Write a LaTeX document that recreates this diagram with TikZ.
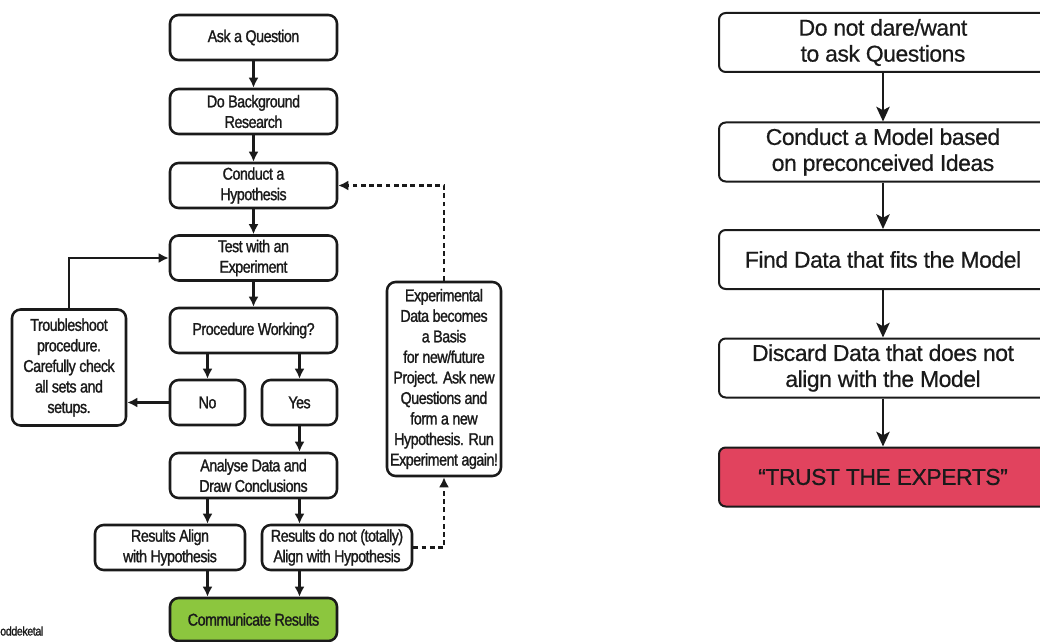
\documentclass[tikz,border=0pt]{standalone}
\usepackage{fontspec}
\setmainfont{Liberation Sans}
\newfontfamily\leftfont[FakeStretch=0.84,LetterSpace=-3,FakeBold=1.3]{Liberation Sans}
\newfontfamily\rightfont[LetterSpace=-2,FakeBold=0.6]{Liberation Sans}
\usetikzlibrary{arrows.meta}
\definecolor{commgreen}{HTML}{8CC63E}
\definecolor{trustred}{HTML}{E1435E}
\definecolor{ink}{HTML}{1A1A1A}
\tikzset{>=latex,
  lbox/.style={draw=ink, line width=1.9pt, rounded corners=6.5pt, align=center, inner sep=1pt,
    text=ink, font=\leftfont\fontsize{12.8}{15.4}\selectfont, minimum width=125.25pt, minimum height=33.75pt},
  rbox/.style={draw=ink, line width=1.5pt, rounded corners=5pt, align=center, inner sep=1pt,
    text=ink, font=\rightfont\fontsize{17.2}{19.5}\selectfont, minimum width=246pt, minimum height=44.25pt},
  larrow/.style={-{Latex[length=7.5pt,width=7.5pt]}, line width=1.7pt, color=ink},
  darrow/.style={larrow, dash pattern=on 3.6pt off 2.6pt},
  rarrow/.style={-{Stealth[length=11pt,width=10pt,inset=2.5pt]}, line width=1.4pt, color=ink}}
\begin{document}
\begin{tikzpicture}[x=0.75pt,y=-0.75pt]
\useasboundingbox (0,0) rectangle (1040,642);
\clip (0,0) rectangle (1040,642);
\node[lbox] (ask) at (253.5,37.5) {Ask a Question};
\node[lbox] (bg) at (253.5,111.5) {Do Background\\Research};
\node[lbox] (hyp) at (253.5,185.5) {Conduct a\\Hypothesis};
\node[lbox] (test) at (253.5,258) {Test with an\\Experiment};
\node[lbox] (proc) at (253.5,330.5) {Procedure Working?};
\node[lbox, minimum width=56.25pt] (no) at (207.5,402.5) {No};
\node[lbox, minimum width=56.25pt] (yes) at (299.5,402.5) {Yes};
\node[lbox, minimum width=85.5pt, minimum height=87pt] (trouble) at (69,367.5)
  {Troubleshoot\\procedure.\\Carefully check\\all sets and\\setups.};
\node[lbox] (analyse) at (253.5,475.5) {Analyse Data and\\Draw Conclusions};
\node[lbox, minimum width=112.5pt] (align) at (170,547.5) {Results Align\\with Hypothesis};
\node[lbox, minimum width=112.5pt] (notalign) at (337,547.5) {Results do not (totally)\\Align with Hypothesis};
\node[lbox, fill=commgreen, minimum height=32.25pt] (comm) at (253.5,619.5) {Communicate Results};
\node[lbox, minimum width=85.5pt, minimum height=145.5pt] (exp) at (444,379)
  {Experimental\\Data becomes\\a Basis\\for new/future\\Project. Ask new\\Questions and\\form a new\\Hypothesis. Run\\Experiment again!};
\node[anchor=west, inner sep=0pt, text=ink, font=\leftfont\fontsize{9.5}{11}\selectfont] (credit) at (0,631) {oddeketal};
\node[rbox] (r1) at (883,42.5) {Do not dare/want\\to ask Questions};
\node[rbox] (r2) at (883,152) {Conduct a Model based\\on preconceived Ideas};
\node[rbox] (r3) at (883,259.5) {Find Data that fits the Model};
\node[rbox] (r4) at (883,368) {Discard Data that does not\\align with the Model};
\node[rbox, fill=trustred] (r5) at (883,477) {“TRUST THE EXPERTS”};
\path[larrow]
(ask) edge (bg)
(bg) edge (hyp)
(hyp) edge (test)
(test) edge (proc)
(proc.south -| no) edge (no)
(proc.south -| yes) edge (yes)
(yes) edge (analyse.north -| yes)
(no.west) edge (no.west -| trouble.east)
(analyse.south -| no) edge (align.north -| no)
(analyse.south -| yes) edge (notalign.north -| yes)
(align.south -| no) edge (comm.north -| no)
(notalign.south -| yes) edge (comm.north -| yes);
\draw[larrow] (trouble.north) |- (test.west);
\draw[darrow] (notalign.east) -| (exp.south);
\draw[darrow] (exp.north) |- (hyp.east);
\path[rarrow]
(r1) edge (r2)
(r2) edge (r3)
(r3) edge (r4)
(r4) edge (r5);
\end{tikzpicture}
\end{document}
